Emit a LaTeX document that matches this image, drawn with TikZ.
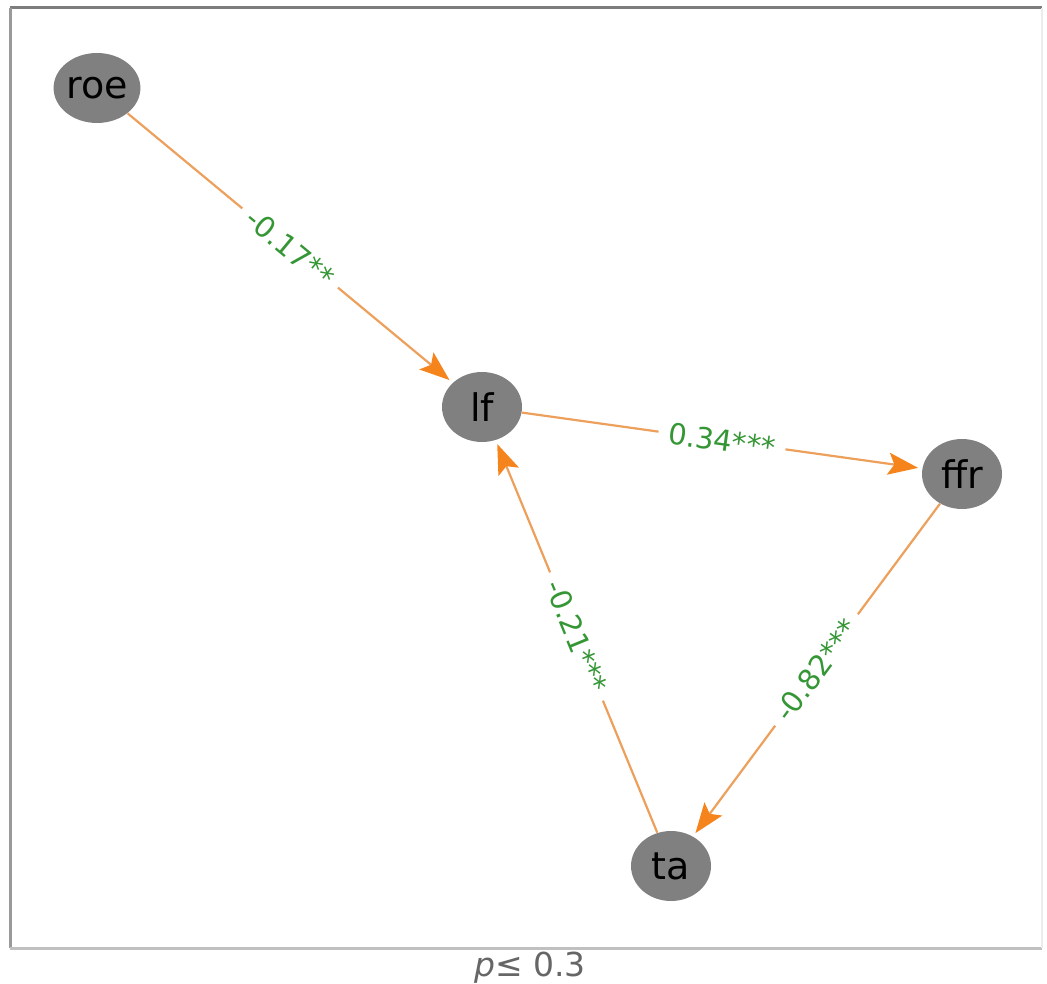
\documentclass[tikz,border=0pt]{standalone}
\usepackage{fontspec}
\setmainfont{DejaVu Sans}
\usetikzlibrary{shapes.geometric,arrows.meta}
\definecolor{nodegray}{RGB}{128,128,128}
\definecolor{edgeline}{RGB}{236,160,92}
\definecolor{edgetip}{RGB}{246,132,28}
\definecolor{lblgreen}{RGB}{52,150,52}
\definecolor{framedark}{RGB}{125,125,125}
\definecolor{framelight}{RGB}{192,192,192}
\begin{document}
\begin{tikzpicture}[x=0.5pt,y=-0.5pt,
  vnode/.style={ellipse,fill=nodegray,draw=none,minimum width=40pt,minimum height=35pt,inner sep=0pt,font=\fontsize{19}{19}\selectfont,text=black},
  edge/.style={draw=edgeline,line width=1.1pt,
    -{Stealth[length=15pt,width=11pt,inset=3pt,color=edgetip,fill=edgetip]},shorten >=2pt},
  elabel/.style={midway,sloped,fill=white,inner xsep=5pt,inner ysep=3pt,text=lblgreen,font=\fontsize{14.5}{14.5}\selectfont}]
\useasboundingbox (0,0) rectangle (1047,983);
% frame
\draw[framedark,line width=1.5pt] (10,8) -- (1042,8);
\draw[framelight!80!black,line width=1.5pt] (10,8) -- (10,948);
\draw[framelight,line width=1.5pt] (10,948) -- (1042,948);
\draw[framelight!30,line width=1pt] (1042,8) -- (1042,948);
% nodes
\node[vnode] (roe) at (97,88) {roe};
\node[vnode] (lf) at (482,407) {lf};
\node[vnode] (ffr) at (962,474) {ffr};
\node[vnode] (ta) at (671,866) {ta};
% edges
\draw[edge] (roe) -- node[elabel] {-0.17**} (lf);
\draw[edge] (lf) -- node[elabel] {0.34***} (ffr);
\draw[edge] (ta) -- node[elabel] {-0.21***} (lf);
\draw[edge] (ffr) -- node[elabel] {-0.82***} (ta);
% caption
\node[text=black!60,font=\fontsize{16.5}{16.5}\selectfont] (cap) at (530,968) {\textit{p}≤ 0.3};
\end{tikzpicture}
\end{document}
